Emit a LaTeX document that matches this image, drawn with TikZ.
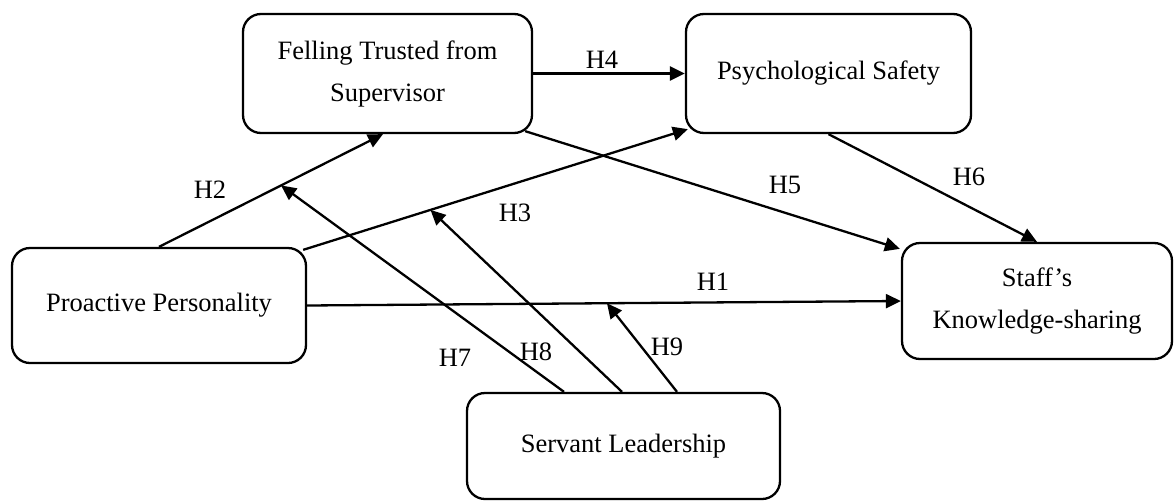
\documentclass[tikz,border=0pt]{standalone}
\usepackage{fontspec}
\setmainfont{Liberation Serif}
\usetikzlibrary{arrows.meta,calc}
\begin{document}
\begin{tikzpicture}[x=1pt,y=-1pt,
  box/.style={draw,line width=2.3pt,rounded corners=18pt,inner sep=0pt,align=center,font=\fontsize{26.5}{42}\selectfont},
  lbl/.style={inner sep=0pt,font=\fontsize{26.5}{32}\selectfont},
  arr/.style={line width=2.3pt,-{Triangle[length=15pt,width=14pt]}}]
\useasboundingbox (0,0) rectangle (1175,501);
\node[box,minimum width=289pt,minimum height=119pt] (felling) at (387.5,73.5) {Felling Trusted from\\Supervisor};
\node[box,minimum width=285pt,minimum height=119pt] (psych) at (828.5,73.5) {Psychological Safety};
\node[box,minimum width=294pt,minimum height=115pt] (proactive) at (159,305.5) {Proactive Personality};
\node[box,minimum width=270pt,minimum height=116pt] (staff) at (1037,301) {Staff’s\\Knowledge-sharing};
\node[box,minimum width=313pt,minimum height=106pt] (servant) at (623.5,446) {Servant Leadership};
% main paths
\draw[arr] (felling) -- (psych);
\draw[arr] (proactive.north) -- coordinate[pos=0.545] (m7) ([xshift=-4.5pt]felling.south);
\draw[arr] ([shift={(-4,3)}]proactive.north east) -- coordinate[pos=0.331] (m8) ([shift={(3,-5)}]psych.south west);
\draw[arr] ([shift={(-8,-3)}]felling.south east) -- ([shift={(-1,7)}]staff.north west);
\draw[arr] (psych.south) -- (staff.north);
\draw[arr] (proactive.east) -- coordinate[pos=0.505] (m9) (staff.west);
% moderation
\draw[arr] ([xshift=-59.5pt]servant.north) -- (m7);
\draw[arr] ([xshift=-1.5pt]servant.north) -- (m8);
\draw[arr] ([xshift=53.5pt]servant.north) -- (m9);
% labels
\node[lbl] (lH1) at (713,282) {H1};
\node[lbl] (lH2) at (210,190) {H2};
\node[lbl] (lH3) at (515,213) {H3};
\node[lbl] (lH4) at (602,60) {H4};
\node[lbl] (lH5) at (785,185) {H5};
\node[lbl] (lH6) at (969,177) {H6};
\node[lbl] (lH7) at (455,358) {H7};
\node[lbl] (lH8) at (536,352) {H8};
\node[lbl] (lH9) at (667,347) {H9};
\end{tikzpicture}
\end{document}
